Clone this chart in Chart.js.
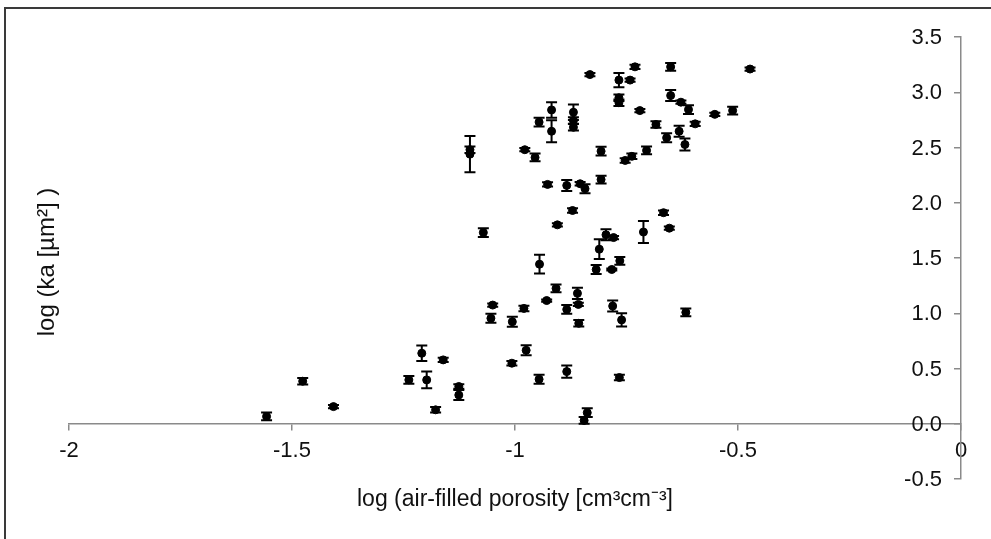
<!DOCTYPE html>
<html>
<head>
<meta charset="utf-8">
<script src="https://cdn.jsdelivr.net/npm/chart.js@4"></script>
<style>
    html, body { margin: 0; padding: 0; background: #fff; }
    #wrap { position: relative; width: 991px; height: 539px; overflow: hidden; }
    #frame { position: absolute; left: 4px; top: 7px; width: 2000px; height: 2000px;
             border-top: 2px solid #3a3a3a; border-left: 2px solid #3a3a3a; }
    .title { position: absolute; font-family: "Liberation Sans", Arial, sans-serif;
             color: #111; white-space: nowrap; }
    #xTitle { left: 515px; top: 497px; font-size: 23px; transform: translate(-50%, -50%); }
    #yTitle { left: 46px; top: 262px; font-size: 24px; transform: translate(-50%, -50%) rotate(-90deg); }
</style>
</head>
<body>
<div id="wrap">
    <canvas id="chartOne" width="991" height="539"></canvas>
    <div id="frame"></div>
    <div class="title" id="xTitle">log (air-filled porosity [cm³cm⁻³]</div>
    <div class="title" id="yTitle">log (ka [µm²] )</div>
</div>
<script>
    // log air-filled porosity (x), log ka (y) and the +/- error on log ka
    const porosity = [
        -1.557, -1.476, -1.407, -1.238, -1.209, -1.198, -1.178, -1.161, -1.126, -1.126,
        -1.050, -1.054, -1.006, -0.980, -1.007, -0.975, -1.071, -0.871, -0.905, -0.667,
        -0.654, -0.712, -0.796, -0.779, -0.811, -0.945, -0.765, -0.818, -0.783, -0.908,
        -0.860, -0.929, -0.858, -0.884, -0.781, -0.761, -0.857, -0.617, -0.946, -0.884,
        -0.766, -0.838, -0.845, -1.101, -1.101, -0.946, -0.918, -0.918, -0.869, -0.869,
        -0.869, -0.978, -0.955, -0.807, -0.807, -0.927, -0.884, -0.854, -0.843, -0.767,
        -0.742, -0.731, -0.651, -0.473, -0.767, -0.767, -0.720, -0.651, -0.628, -0.611,
        -0.552, -0.512, -0.684, -0.596, -0.660, -0.632, -0.619, -0.705, -0.738, -0.753,
        -0.832
    ];
    const logKa = [
        0.066, 0.385, 0.155, 0.397, 0.638, 0.397, 0.126, 0.578, 0.337, 0.260,
        1.074, 0.955, 0.923, 1.044, 0.548, 0.665, 1.730, 1.930, 1.800, 1.910,
        1.770, 1.735, 1.710, 1.685, 1.580, 1.444, 1.474, 1.396, 1.396, 1.225,
        1.180, 1.115, 1.080, 1.035, 1.065, 0.940, 0.909, 1.008, 0.403, 0.472,
        0.418, 0.100, 0.030, 2.440, 2.480, 2.730, 2.840, 2.647, 2.819, 2.744,
        2.683, 2.480, 2.410, 2.467, 2.210, 2.166, 2.157, 2.172, 2.127, 3.110,
        3.110, 3.230, 3.230, 3.210, 2.950, 2.905, 2.834, 2.970, 2.910, 2.843,
        2.800, 2.834, 2.708, 2.714, 2.588, 2.647, 2.527, 2.473, 2.420, 2.383,
        3.160
    ];
    const kaError = [
        0.035, 0.030, 0.015, 0.035, 0.070, 0.075, 0.025, 0.020, 0.020, 0.045,
        0.015, 0.040, 0.045, 0.025, 0.020, 0.045, 0.040, 0.020, 0.015, 0.020,
        0.015, 0.100, 0.050, 0.015, 0.090, 0.085, 0.035, 0.040, 0.010, 0.035,
        0.050, 0.010, 0.015, 0.040, 0.050, 0.060, 0.030, 0.035, 0.040, 0.055,
        0.025, 0.040, 0.030, 0.165, 0.030, 0.040, 0.070, 0.100, 0.070, 0.030,
        0.030, 0.015, 0.035, 0.040, 0.035, 0.020, 0.050, 0.015, 0.040, 0.065,
        0.015, 0.020, 0.035, 0.015, 0.030, 0.030, 0.015, 0.050, 0.015, 0.040,
        0.015, 0.035, 0.030, 0.020, 0.040, 0.050, 0.055, 0.035, 0.025, 0.020,
        0.015
    ];

    const xTicks = [-2, -1.5, -1, -0.5, 0];
    const xTickLabels = ['-2', '-1.5', '-1', '-0.5', '0'];
    const yTicks = [-0.5, 0, 0.5, 1, 1.5, 2, 2.5, 3, 3.5];
    const yTickLabels = ['-0.5', '0.0', '0.5', '1.0', '1.5', '2.0', '2.5', '3.0', '3.5'];

    const axisGrey = '#8a8a8a';
    const fontFamily = '"Liberation Sans", Arial, sans-serif';
    const tickFont = { family: fontFamily, size: 22 };

    // vertical error bars with caps, drawn through the chart scales
    const errorBars = {
        id: 'errorBars',
        afterDatasetsDraw(chart) {
            const { ctx, scales: { x, y } } = chart;
            ctx.save();
            ctx.strokeStyle = '#000';
            ctx.lineWidth = 2;
            porosity.forEach((px, i) => {
                const cx = x.getPixelForValue(px);
                const top = y.getPixelForValue(logKa[i] + kaError[i]);
                const bot = y.getPixelForValue(logKa[i] - kaError[i]);
                ctx.beginPath();
                ctx.moveTo(cx, top); ctx.lineTo(cx, bot);
                ctx.moveTo(cx - 5.5, top); ctx.lineTo(cx + 5.5, top);
                ctx.moveTo(cx - 5.5, bot); ctx.lineTo(cx + 5.5, bot);
                ctx.stroke();
            });
            ctx.restore();
        }
    };

    // y labels sit left of the axis that crosses at x = 0
    const yAxisLabels = {
        id: 'yAxisLabels',
        afterDraw(chart) {
            const { ctx, scales: { x, y } } = chart;
            const axisX = x.getPixelForValue(0);
            ctx.save();
            ctx.font = '22px ' + fontFamily;
            ctx.fillStyle = '#111';
            ctx.textAlign = 'right';
            ctx.textBaseline = 'middle';
            yTicks.forEach((v, i) => {
                ctx.fillText(yTickLabels[i], axisX - 19, y.getPixelForValue(v) + 1);
            });
            ctx.restore();
        }
    };

    const chartOne = document.getElementById('chartOne');
    new Chart(chartOne, {
        type: 'scatter',
        data: {
            datasets: [{
                label: 'log ka',
                data: porosity.map((v, i) => ({ x: v, y: logKa[i] })),
                backgroundColor: '#000',
                borderColor: '#000',
                pointRadius: 4,
                pointHoverRadius: 4
            }]
        },
        options: {
            responsive: false,
            animation: false,
            layout: { padding: { left: 69, right: 30, top: 37, bottom: 60 } },
            plugins: {
                legend: { display: false },
                tooltip: { enabled: false }
            },
            scales: {
                x: {
                    type: 'linear',
                    position: { y: 0 },
                    min: -2,
                    max: 0,
                    afterBuildTicks: (scale) => { scale.ticks = xTicks.map(v => ({ value: v })); },
                    ticks: {
                        font: tickFont,
                        color: '#111',
                        padding: 8,
                        maxRotation: 0,
                        callback: (v) => xTickLabels[xTicks.indexOf(v)]
                    },
                    grid: { drawOnChartArea: false, tickLength: 6, color: axisGrey, lineWidth: 1.5 },
                    border: { color: axisGrey, width: 1.5 }
                },
                y: {
                    type: 'linear',
                    position: { x: 0 },
                    min: -0.5,
                    max: 3.5,
                    afterBuildTicks: (scale) => { scale.ticks = yTicks.map(v => ({ value: v })); },
                    ticks: { display: false },
                    grid: { drawOnChartArea: false, tickLength: 6, color: axisGrey, lineWidth: 1.5 },
                    border: { color: axisGrey, width: 1.5 }
                }
            }
        },
        plugins: [errorBars, yAxisLabels]
    });
</script>
</body>
</html>
